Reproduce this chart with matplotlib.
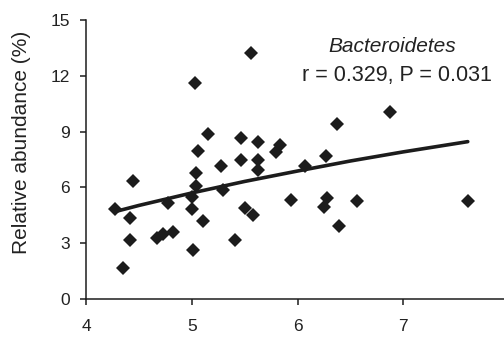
import numpy as np
import matplotlib
matplotlib.use("Agg")
import matplotlib.pyplot as plt

# Data
x_vals = [4.27, 4.44, 4.42, 4.42, 4.35, 4.67, 4.73, 4.82, 4.78, 5.01, 5.00, 5.04, 5.06,
          5.15, 5.04, 5.00, 5.11, 5.28, 5.30, 5.41, 5.47, 5.47, 5.50, 5.58, 5.63, 5.63,
          5.63, 5.83, 5.80, 5.94, 5.56, 5.03, 6.07, 6.27, 6.37, 6.87, 6.28, 6.25, 6.56,
          6.39, 7.61]
y_vals = [4.85, 6.33, 4.37, 3.18, 1.65, 3.26, 3.50, 3.62, 5.14, 2.63, 4.85, 6.75, 7.95,
          8.88, 6.10, 5.50, 4.18, 7.13, 5.84, 3.17, 8.63, 7.47, 4.87, 4.52, 8.46, 7.47,
          6.94, 8.26, 7.90, 5.30, 13.24, 11.60, 7.15, 7.69, 9.41, 10.07, 5.41, 4.93, 5.27,
          3.92, 5.27]

# Trend line points
trend_x = [4.27, 4.5, 5.0, 5.5, 6.0, 6.5, 7.0, 7.61]
trend_y = [4.69, 5.03, 5.70, 6.32, 6.88, 7.42, 7.91, 8.46]

x_ticks = [4, 5, 6, 7, 8]
y_ticks = [0, 3, 6, 9, 12, 15]

plt.rcParams['font.family'] = ['Liberation Sans', 'DejaVu Sans']

fig = plt.figure(figsize=(5.04, 3.42), dpi=100)
ax = fig.add_axes([86/504, 43/342, (509-86)/504, (299-20)/342])

dark = '#1c1c1c'
ax.plot(trend_x, trend_y, color=dark, lw=2.6, solid_capstyle='round', zorder=2)
ax.plot(x_vals, y_vals, linestyle='none', marker='D', markersize=7.4,
        color=dark, markeredgewidth=0, zorder=3)

ax.set_xlim(4, 8)
ax.set_ylim(0, 15)
ax.set_xticks(x_ticks)
ax.set_yticks(y_ticks)
ax.set_xticklabels([str(v) for v in x_ticks])
ax.set_yticklabels([str(v) for v in y_ticks])

for s in ['top', 'right']:
    ax.spines[s].set_visible(False)
for s in ['left', 'bottom']:
    ax.spines[s].set_linewidth(1.1)
    ax.spines[s].set_color(dark)

ax.tick_params(axis='both', direction='out', length=4.5, width=1.1, color=dark,
               labelsize=12.5, labelcolor='#222222')
ax.tick_params(axis='x', pad=10)
ax.tick_params(axis='y', pad=7)

ax.set_ylabel('Relative abundance (%)', fontsize=15, color='#222222')
ax.yaxis.set_label_coords(-0.13, 0.56)

fig.text(392/504, 1 - 47/342, 'Bacteroidetes', fontsize=15,
         style='italic', ha='center', va='center', color='#222222')
fig.text(397/504, 1 - 76/342, 'r = 0.329, P = 0.031', fontsize=15.5,
         ha='center', va='center', color='#222222')

fig.savefig('out.png', dpi=100)
